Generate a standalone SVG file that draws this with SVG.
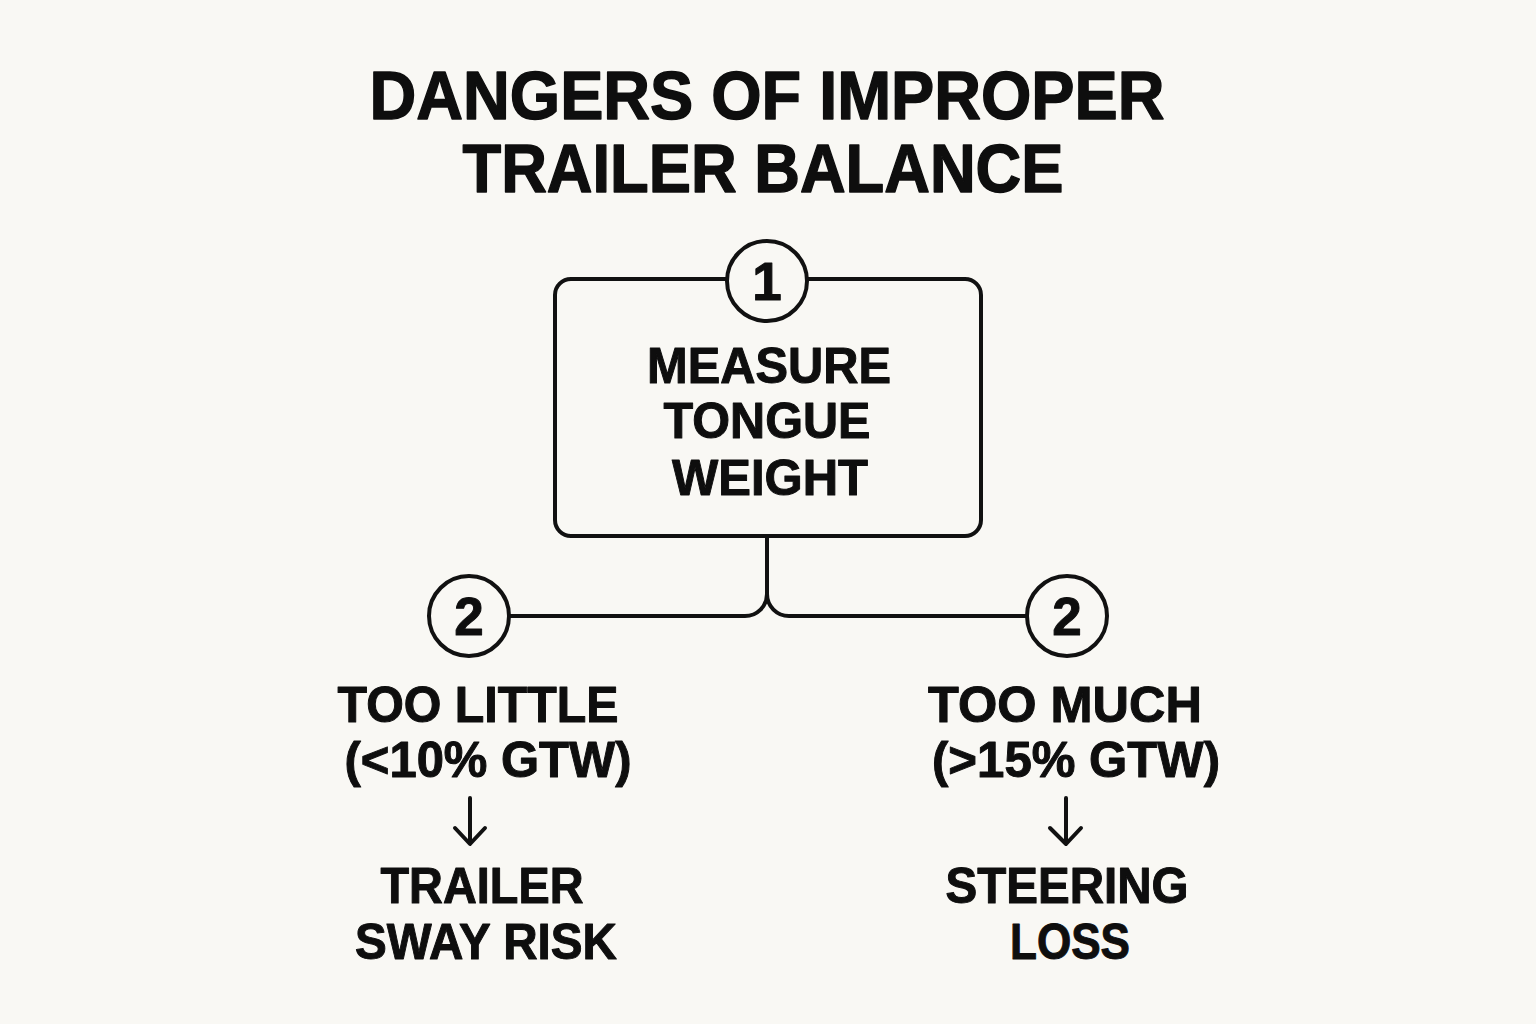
<svg xmlns="http://www.w3.org/2000/svg" width="1536" height="1024" viewBox="0 0 1536 1024">
  <style>
    .t{font-family:"Liberation Sans",Arial,sans-serif;font-weight:bold;fill:#0e0e0e;stroke:#0e0e0e;stroke-width:1;stroke-linejoin:round;text-anchor:middle}
    .title{font-size:68px;stroke-width:1.4}
    .lbl{font-size:50px}
    .num{font-size:53px}
    .ln{fill:none;stroke:#111;stroke-width:4;stroke-linecap:round;stroke-linejoin:round}
    .badge{fill:#f9f8f4;stroke:#111;stroke-width:4}
  </style>
  <rect width="1536" height="1024" fill="#f9f8f4"/>
  <g id="title">
    <text class="t title" x="767" y="119" textLength="795" lengthAdjust="spacingAndGlyphs">DANGERS OF IMPROPER</text>
    <text class="t title" x="763" y="192" textLength="601" lengthAdjust="spacingAndGlyphs">TRAILER BALANCE</text>
  </g>
  <g id="connectors">
    <path class="ln" d="M767,537 V594 A22,22 0 0 1 745,616 H509"/>
    <path class="ln" d="M767,594 A22,22 0 0 0 789,616 H1027"/>
    <path class="ln" d="M470,798 V843 M455,828 L470,844 L485,828"/>
    <path class="ln" d="M1066,798 V843 M1050,828 L1066,844 L1081,828"/>
  </g>
  <g id="node-measure">
    <rect class="ln" x="555" y="279" width="426" height="257" rx="16"/>
    <circle class="badge" cx="767" cy="281" r="40"/>
    <text class="t num" x="767" y="300">1</text>
    <text class="t lbl" x="769" y="383" textLength="244" lengthAdjust="spacingAndGlyphs">MEASURE</text>
    <text class="t lbl" x="767" y="438" textLength="207" lengthAdjust="spacingAndGlyphs">TONGUE</text>
    <text class="t lbl" x="770" y="495" textLength="196" lengthAdjust="spacingAndGlyphs">WEIGHT</text>
  </g>
  <g id="node-too-little">
    <circle class="badge" cx="469" cy="616" r="40"/>
    <text class="t num" x="469" y="635">2</text>
    <text class="t lbl" x="478" y="722" textLength="281" lengthAdjust="spacingAndGlyphs">TOO LITTLE</text>
    <text class="t lbl" x="488" y="777" textLength="287" lengthAdjust="spacingAndGlyphs">(&lt;10% GTW)</text>
  </g>
  <g id="node-sway">
    <text class="t lbl" x="482" y="903" textLength="203" lengthAdjust="spacingAndGlyphs">TRAILER</text>
    <text class="t lbl" x="486" y="959" textLength="262" lengthAdjust="spacingAndGlyphs">SWAY RISK</text>
  </g>
  <g id="node-too-much">
    <circle class="badge" cx="1067" cy="616" r="40"/>
    <text class="t num" x="1067" y="635">2</text>
    <text class="t lbl" x="1065" y="722" textLength="274" lengthAdjust="spacingAndGlyphs">TOO MUCH</text>
    <text class="t lbl" x="1076" y="777" textLength="288" lengthAdjust="spacingAndGlyphs">(&gt;15% GTW)</text>
  </g>
  <g id="node-steering">
    <text class="t lbl" x="1067" y="903" textLength="243" lengthAdjust="spacingAndGlyphs">STEERING</text>
    <text class="t lbl" x="1070" y="959" textLength="120" lengthAdjust="spacingAndGlyphs">LOSS</text>
  </g>
</svg>
